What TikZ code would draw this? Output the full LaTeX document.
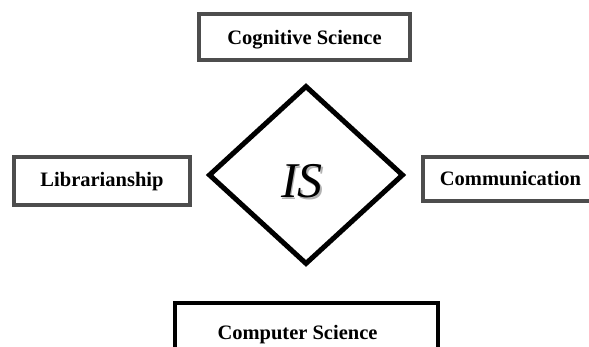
\documentclass[tikz,border=0pt]{standalone}
\usepackage{fontspec}
\setmainfont{Liberation Serif}
\usetikzlibrary{shapes.geometric}
\definecolor{boxgray}{HTML}{4D4D4D}
\tikzset{
  field/.style={draw=boxgray, line width=4pt, inner sep=0pt},
  fieldtext/.style={font=\fontsize{20.5}{24}\selectfont\bfseries, anchor=base, inner sep=0pt},
  core/.style={draw=black, line width=5pt, shape=diamond, inner sep=0pt, minimum width=195pt, minimum height=179pt},
  coretext/.style={font=\fontsize{50}{56}\selectfont\itshape, anchor=base, inner sep=0pt},
}
\begin{document}
\begin{tikzpicture}[x=1pt, y=-1pt]
\clip (0,0) rectangle (589,347);
\fill[white] (0,0) rectangle (589,347);
% boxes (centerline corners)
\node[field, minimum width=211pt, minimum height=46pt] (cogbox) at (304.5,37) {};
\node[field, minimum width=176pt, minimum height=48pt] (libbox) at (102,181) {};
\node[field, minimum width=190pt, minimum height=44pt] (combox) at (518,179) {};
\node[field, draw=black, minimum width=263pt, minimum height=60pt] (compbox) at (306.5,333) {};
% texts
\node[fieldtext] (cog) at (304.5,45) {Cognitive Science};
\node[fieldtext] (lib) at (102,187) {Librarianship};
\node[fieldtext] (com) at (510.5,186) {Communication};
\node[fieldtext] (comp) at (297.5,340) {Computer Science};
% diamond
\node[core] (is) at (306,175) {};
\node[coretext, text=black!30] (isshadow) at (303.5,199.5) {IS};
\node[coretext] (istext) at (302,198) {IS};
\end{tikzpicture}
\end{document}
